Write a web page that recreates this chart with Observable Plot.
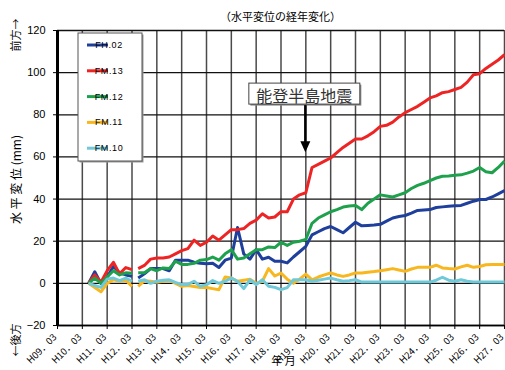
<!DOCTYPE html>
<html>
<head>
<meta charset="utf-8">
<script src="https://cdn.jsdelivr.net/npm/d3@7"></script>
<script src="https://cdn.jsdelivr.net/npm/@observablehq/plot@0.6"></script>
<style>
  html, body { margin: 0; padding: 0; background: #fff; }
  #chart { position: relative; width: 505px; height: 370px; }
</style>
</head>
<body>
<div id="chart"></div>
<script>
// ---- data (Heisei year fractional time; values in mm) ----
const times = [
  10.25, 10.5, 10.75, 11.0, 11.25, 11.5, 11.75, 12.0,
  12.125,
  12.25, 12.5, 12.75, 13.0, 13.25, 13.5, 13.75, 14.0,
  14.25, 14.5, 14.75, 15.0, 15.25, 15.5, 15.75, 16.0,
  16.25, 16.5, 16.75, 17.0, 17.25, 17.5, 17.75, 18.0,
  18.25, 18.5, 18.75, 19.0, 19.25, 19.5, 19.75, 20.0,
  20.25, 20.5, 20.75, 21.0, 21.25, 21.5, 21.75, 22.0,
  22.25, 22.5, 22.75, 23.0, 23.25, 23.5, 23.75, 24.0,
  24.25, 24.5, 24.75, 25.0, 25.25, 25.5, 25.75, 26.0,
  26.25, 26.5, 26.75, 27.0
];
const FH02 = [
  0, 5.5, 0, 3, 8, 5, 4, 3.3,
  null,
  2.5, 4.5, 7, 7, 7, 6, 11, 11,
  11, 10, 9.5, 9.3, 9.5, 7.5, 11, 12,
  26.5, 14, 11.5, 16, 11.5, 12.4, 10.5, 10.5,
  9.7, 12.5, 15, 17.6, 23, 24.5, 26, 27,
  25.5, 24, 26.5, 29, 27.3, 27.5, 27.7, 28,
  29.5, 31, 31.7, 32.2, 33.3, 34.6, 34.8, 35,
  36, 36.3, 36.6, 36.8, 37, 38, 39, 39.8,
  39.8, 41, 42.5, 44
];
const FM13 = [
  0, 4, 0.5, 6, 10, 4.5, 7.5, 6.5,
  null,
  7, 8.5, 11.5, 12, 12, 12.5, 14, 15.5,
  16.5, 20.5, 18, 19.5, 22.5, 20.5, 23, 25.5,
  25.5, 26, 28.5, 30, 33, 31, 31.5, 34,
  34, 40, 42, 43, 55, 56.5, 58, 59.5,
  62, 64.5, 66.5, 68.5, 68.5, 70, 72, 74.5,
  75, 76.5, 79, 81, 82.5, 84, 86, 88,
  89, 90.5, 91, 92, 93, 95.5, 99, 99.5,
  102, 104, 106, 108.5
];
const FM12 = [
  0, 2.5, 0, 3, 6, 4, 5, 4.8,
  null,
  5, 5, 7, 6, 7.3, 7, 10.5, 9,
  9, 9.5, 11, 11.3, 12.5, 11, 14, 16,
  11.5, 12, 14, 16, 16, 17.3, 17, 19.5,
  18, 19.5, 20, 20.8, 28.5, 31, 32.5, 34,
  35, 36.2, 36.7, 37, 35, 38, 40, 42,
  41.5, 41, 42, 43, 45, 46.5, 47.5, 48.8,
  50, 50.8, 51, 51.3, 51.5, 52.3, 53.3, 55,
  53, 52.5, 55, 58
];
const FM11 = [
  0, -2, -4, 0, 1.7, 1, 1.5, -1.4,
  null,
  -1.4, 1.3, 1, 0.5, 1, 1.4, 0, -1.4,
  -1, -1.5, -2, -2, -2.5, -3, 3, 2.5,
  1, 1.5, 2, 0, 1, 7, 3.5, 4.9,
  2, 0, 2, 4.4, 1.7, 3, 4, 4.9,
  4, 3.3, 4, 4.9, 4.9, 5.3, 5.6, 6,
  6.5, 7, 6.3, 5.7, 6.8, 7.6, 7.6, 7.6,
  8.6, 7.3, 7, 6.8, 7.8, 8.6, 7.6, 8,
  8.8, 8.9, 8.9, 8.9
];
const FM10 = [
  0, -1, -1.9, 2, 2.5, 1.3, 2.5, 1,
  null,
  1, 1.7, 0, 1, 1.5, 1.7, 0.5, -0.6,
  -0.5, 1, -1.4, -0.6, 1.3, 0, 1, 2.5,
  1, -2.5, 1.7, -0.6, 1.7, -1.4, -1.9, -3,
  -2, 1.7, 1.7, 1.7, 1, 1.5, 2, 2.5,
  1.7, 1, 1.3, 1.7, 0.6, 0.6, 0.6, 0.6,
  0.6, 0.6, 0.6, 0.6, 0.6, 0.6, 0.6, 0.6,
  1.5, 2.9, 1.5, 1, 1.7, 1, 0.6, 0.6,
  0.6, 0.6, 0.6, 0.6
];
const seriesNames = ["FH.02", "FM.13", "FM.12", "FM.11", "FM.10"];
const seriesValues = [FH02, FM13, FM12, FM11, FM10];
const xTicks = [9, 10, 11, 12, 13, 14, 15, 16, 17, 18, 19, 20, 21, 22, 23, 24, 25, 26, 27];
const xTickLabels = ["H09．03", "H10．03", "H11．03", "H12．03", "H13．03", "H14．03", "H15．03",
  "H16．03", "H17．03", "H18．03", "H19．03", "H20．03", "H21．03", "H22．03", "H23．03",
  "H24．03", "H25．03", "H26．03", "H27．03"];
const yTicks = [-20, 0, 20, 40, 60, 80, 100, 120];
const titleText = "（水平変位の経年変化）";
const yLabel = "水 平 変 位 (mm)";
const yUpLabel = "前方→";
const yDownLabel = "←後方";
const xLabel = "年 月";
const quakeLabel = "能登半島地震";
const quakeTime = 19.0;

// ---- styles ----
const seriesColors = ["#1f3f9c", "#ee2424", "#1ea14c", "#f8b71e", "#70c9d8"];
const jpFont = "'Noto Sans CJK JP', 'Noto Sans', sans-serif";
const numFont = "'Liberation Sans', Arial, sans-serif";

const table = [];
seriesNames.forEach((name, i) => {
  times.forEach((t, j) => table.push({series: name, t, v: seriesValues[i][j]}));
});

const chart = Plot.plot({
  width: 505,
  height: 370,
  marginLeft: 57,
  marginRight: 1,
  marginTop: 30,
  marginBottom: 45,
  style: {fontFamily: numFont, fontSize: "10px", background: "#fff", overflow: "visible"},
  x: {domain: [9, 27]},
  y: {domain: [-20, 120]},
  color: {domain: seriesNames, range: seriesColors},
  marks: [
    Plot.gridX(xTicks, {stroke: "#4a4a4a", strokeOpacity: 1, strokeWidth: 1.5}),
    Plot.gridY(yTicks, {stroke: "#111", strokeOpacity: 1, strokeWidth: 1.3}),
    Plot.axisX(xTicks, {tickFormat: () => "", tickSize: 4, label: null}),
    Plot.axisY(yTicks, {tickSize: 4, tickPadding: 8, label: null, fontSize: 11}),
    Plot.ruleX([9], {stroke: "#000", strokeWidth: 3}),
    Plot.ruleY([-20], {stroke: "#000", strokeWidth: 1.5}),
    Plot.line(table, {
      x: "t", y: "v", z: "series", stroke: "series",
      strokeWidth: 3, strokeLinejoin: "round", strokeLinecap: "butt"
    })
  ]
});

document.getElementById("chart").appendChild(chart);

const svg = d3.select(chart);
const xs = chart.scale("x"), ys = chart.scale("y");
const x0 = xs.apply(9), x1 = xs.apply(27);
const yTop = ys.apply(120), yBot = ys.apply(-20);

// x tick labels, rotated
xTicks.forEach((t, i) => {
  svg.append("text")
    .attr("transform", `translate(${xs.apply(t) - 2.5},${yBot + 10}) rotate(-45)`)
    .attr("text-anchor", "end").attr("dominant-baseline", "central")
    .attr("font-family", jpFont).attr("font-size", 9.5).attr("fill", "#000")
    .text(xTickLabels[i]);
});

// title
svg.append("text").attr("x", (x0 + x1) / 2).attr("y", yTop - 9)
  .attr("text-anchor", "middle").attr("font-family", jpFont).attr("font-size", 11)
  .attr("fill", "#000").text(titleText);

// x label
svg.append("text").attr("x", (x0 + x1) / 2 + 3).attr("y", yBot + 40)
  .attr("text-anchor", "middle").attr("font-family", jpFont).attr("font-size", 11)
  .attr("fill", "#000").text(xLabel);

// y labels (rotated)
function vText(str, cx, cy, size) {
  svg.append("text").attr("transform", `translate(${cx},${cy}) rotate(-90)`)
    .attr("text-anchor", "middle").attr("dominant-baseline", "central")
    .attr("font-family", jpFont).attr("font-size", size).attr("fill", "#000").text(str);
}
vText(yLabel, 15, (yTop + yBot) / 2 + 2, 12);
vText(yUpLabel, 15, yTop + 5, 11);
vText(yDownLabel, 15, yBot + 15, 11);

// legend
const lg = svg.append("g");
const lx = x0 + 21, ly = yTop + 3, lw = 64, lh = 128;
lg.append("rect").attr("x", lx + 1.5).attr("y", ly + 1.5).attr("width", lw).attr("height", lh)
  .attr("fill", "#999");
lg.append("rect").attr("x", lx).attr("y", ly).attr("width", lw).attr("height", lh)
  .attr("fill", "#fff").attr("stroke", "#555").attr("stroke-width", 1);
seriesNames.forEach((name, i) => {
  const yy = ly + 12 + i * 25.8;
  lg.append("line").attr("x1", lx + 9).attr("x2", lx + 30).attr("y1", yy).attr("y2", yy)
    .attr("stroke", seriesColors[i]).attr("stroke-width", 3);
  lg.append("text").attr("x", lx + 31).attr("y", yy).attr("dominant-baseline", "central")
    .attr("font-family", numFont).attr("font-size", 9).attr("letter-spacing", 0.6)
    .attr("fill", "#000").text(name);
});

// earthquake annotation
const qx = xs.apply(quakeTime);
const ag = svg.append("g");
const bw = 111, bh = 21, by = ys.apply(94.8);
ag.append("rect").attr("x", qx - bw / 2 - 1 + 1.5).attr("y", by + 1.5).attr("width", bw).attr("height", bh)
  .attr("fill", "#888");
ag.append("rect").attr("x", qx - bw / 2 - 1).attr("y", by).attr("width", bw).attr("height", bh)
  .attr("fill", "#fff").attr("stroke", "#444").attr("stroke-width", 1);
ag.append("text").attr("x", qx - 1).attr("y", by + bh / 2 + 1).attr("text-anchor", "middle")
  .attr("dominant-baseline", "central").attr("font-family", jpFont).attr("font-size", 16)
  .attr("fill", "#333").text(quakeLabel);
const tipY = ys.apply(62);
ag.append("line").attr("x1", qx).attr("x2", qx).attr("y1", by + bh + 1).attr("y2", tipY - 6)
  .attr("stroke", "#000").attr("stroke-width", 2.5);
ag.append("path").attr("d", `M${qx - 5},${tipY - 11} L${qx + 5},${tipY - 11} L${qx},${tipY} Z`)
  .attr("fill", "#000");
</script>
</body>
</html>
